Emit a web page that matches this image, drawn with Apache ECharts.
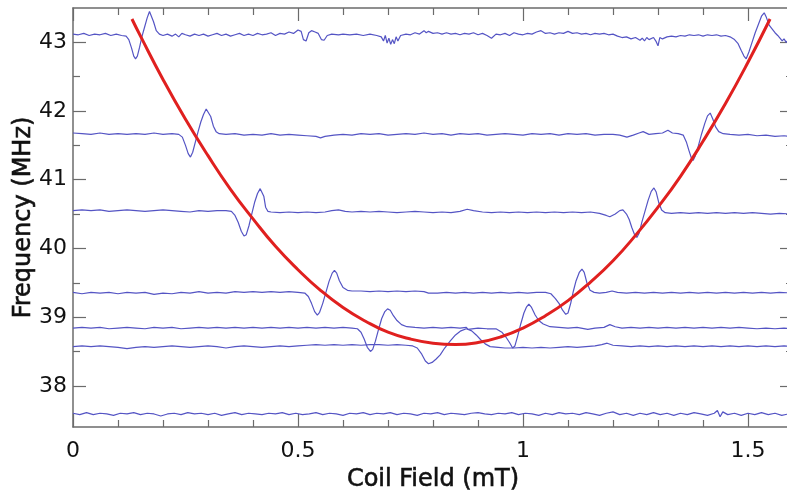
<!DOCTYPE html>
<html><head><meta charset="utf-8">
<script src="https://cdn.jsdelivr.net/npm/echarts@6/dist/echarts.min.js"></script>
<style>html,body{margin:0;padding:0;background:#fff}#c{width:787px;height:499px}</style>
</head><body><div id="c"></div>
<script>
var xMajorTicks = [0, 0.5, 1, 1.5];
var xMinorTicks = [0.1,0.2,0.3,0.4,0.6,0.7,0.8,0.9,1.1,1.2,1.3,1.4];
var yMajorTicks = [38, 39, 40, 41, 42, 43];
var yMinorTicks = [38.5, 39.5, 40.5, 41.5, 42.5];

var trace43 = [[0,43.12],[0.012,43.11],[0.024,43.13],[0.036,43.1],[0.048,43.12],[0.06,43.11],[0.072,43.13],[0.084,43.1],[0.096,43.12],[0.108,43.1],[0.118,43.09],[0.124,43.04],[0.13,42.92],[0.135,42.8],[0.139,42.76],[0.143,42.8],[0.148,42.93],[0.153,43.08],[0.159,43.22],[0.165,43.36],[0.17,43.45],[0.174,43.44],[0.179,43.3],[0.185,43.17],[0.192,43.12],[0.2,43.1],[0.21,43.12],[0.22,43.09],[0.228,43.12],[0.235,43.08],[0.242,43.13],[0.25,43.11],[0.26,43.09],[0.27,43.12],[0.28,43.1],[0.29,43.12],[0.3,43.09],[0.31,43.11],[0.32,43.13],[0.33,43.1],[0.34,43.12],[0.35,43.09],[0.36,43.11],[0.37,43.13],[0.38,43.1],[0.39,43.12],[0.4,43.1],[0.41,43.13],[0.42,43.11],[0.43,43.12],[0.44,43.14],[0.45,43.1],[0.46,43.13],[0.47,43.12],[0.48,43.15],[0.49,43.13],[0.5,43.18],[0.507,43.16],[0.512,43.04],[0.518,43.02],[0.524,43.14],[0.53,43.17],[0.538,43.15],[0.545,43.13],[0.552,43.04],[0.558,43.03],[0.565,43.1],[0.575,43.12],[0.59,43.11],[0.6,43.12],[0.615,43.11],[0.63,43.12],[0.645,43.1],[0.66,43.12],[0.675,43.1],[0.685,43.08],[0.69,43.02],[0.694,43.1],[0.698,42.99],[0.702,43.06],[0.706,42.97],[0.71,43.04],[0.714,42.98],[0.718,43.08],[0.722,43.02],[0.728,43.1],[0.74,43.12],[0.75,43.11],[0.76,43.14],[0.77,43.12],[0.78,43.17],[0.785,43.14],[0.79,43.16],[0.8,43.13],[0.81,43.14],[0.82,43.12],[0.83,43.14],[0.84,43.12],[0.85,43.13],[0.86,43.11],[0.87,43.13],[0.88,43.12],[0.89,43.14],[0.9,43.11],[0.91,43.13],[0.92,43.1],[0.93,43.06],[0.94,43.12],[0.95,43.11],[0.96,43.13],[0.97,43.1],[0.98,43.14],[0.99,43.12],[1.0,43.11],[1.01,43.13],[1.02,43.12],[1.03,43.15],[1.04,43.17],[1.05,43.13],[1.06,43.14],[1.07,43.12],[1.08,43.14],[1.09,43.13],[1.1,43.16],[1.11,43.13],[1.12,43.14],[1.13,43.12],[1.14,43.13],[1.15,43.11],[1.16,43.13],[1.17,43.12],[1.18,43.13],[1.19,43.11],[1.2,43.12],[1.21,43.09],[1.22,43.07],[1.23,43.08],[1.24,43.05],[1.25,43.07],[1.26,43.03],[1.265,43.06],[1.27,43.02],[1.275,43.07],[1.28,43.04],[1.29,43.07],[1.296,43.01],[1.3,42.95],[1.304,43.07],[1.31,43.05],[1.32,43.08],[1.33,43.09],[1.34,43.08],[1.35,43.1],[1.36,43.09],[1.37,43.11],[1.38,43.1],[1.39,43.11],[1.4,43.09],[1.41,43.11],[1.42,43.1],[1.43,43.11],[1.44,43.09],[1.45,43.1],[1.46,43.08],[1.47,43.04],[1.478,42.98],[1.485,42.88],[1.491,42.8],[1.496,42.76],[1.502,42.86],[1.509,43.0],[1.516,43.14],[1.523,43.26],[1.53,43.38],[1.536,43.43],[1.541,43.36],[1.547,43.25],[1.553,43.2],[1.56,43.14],[1.566,43.1],[1.571,43.06],[1.576,43.02],[1.58,43.05],[1.585,43.0],[1.59,43.04],[1.6,43.02]];

var trace41 = [[0,41.68],[0.02,41.67],[0.04,41.66],[0.06,41.68],[0.08,41.66],[0.1,41.67],[0.12,41.66],[0.14,41.67],[0.16,41.66],[0.18,41.68],[0.2,41.66],[0.22,41.67],[0.235,41.66],[0.243,41.62],[0.25,41.5],[0.256,41.38],[0.261,41.33],[0.266,41.4],[0.272,41.55],[0.278,41.7],[0.284,41.84],[0.29,41.95],[0.296,42.03],[0.3,42.02],[0.306,41.92],[0.312,41.78],[0.318,41.7],[0.325,41.67],[0.34,41.66],[0.36,41.67],[0.38,41.65],[0.4,41.66],[0.42,41.65],[0.44,41.67],[0.46,41.65],[0.48,41.66],[0.5,41.65],[0.52,41.64],[0.54,41.63],[0.55,41.61],[0.56,41.63],[0.58,41.65],[0.6,41.66],[0.62,41.65],[0.64,41.67],[0.66,41.66],[0.68,41.67],[0.7,41.65],[0.72,41.66],[0.74,41.67],[0.76,41.66],[0.78,41.68],[0.8,41.66],[0.82,41.67],[0.84,41.65],[0.86,41.67],[0.88,41.66],[0.9,41.67],[0.92,41.65],[0.94,41.66],[0.96,41.67],[0.98,41.66],[1.0,41.65],[1.02,41.67],[1.04,41.66],[1.06,41.67],[1.08,41.65],[1.1,41.67],[1.12,41.66],[1.14,41.67],[1.16,41.65],[1.18,41.66],[1.2,41.66],[1.215,41.65],[1.231,41.62],[1.245,41.65],[1.258,41.68],[1.267,41.7],[1.28,41.66],[1.295,41.67],[1.31,41.68],[1.322,41.72],[1.332,41.68],[1.345,41.67],[1.356,41.65],[1.363,41.55],[1.369,41.42],[1.374,41.32],[1.378,41.28],[1.383,41.35],[1.39,41.5],[1.397,41.67],[1.404,41.82],[1.41,41.93],[1.416,41.97],[1.422,41.88],[1.428,41.77],[1.435,41.7],[1.445,41.67],[1.46,41.66],[1.48,41.65],[1.5,41.66],[1.52,41.64],[1.54,41.65],[1.56,41.63],[1.58,41.64],[1.6,41.62]];

var trace40 = [[0,40.55],[0.02,40.56],[0.04,40.55],[0.06,40.56],[0.08,40.54],[0.1,40.55],[0.12,40.56],[0.14,40.55],[0.16,40.54],[0.18,40.55],[0.2,40.56],[0.22,40.55],[0.24,40.54],[0.26,40.53],[0.28,40.55],[0.3,40.54],[0.32,40.55],[0.34,40.55],[0.352,40.54],[0.36,40.48],[0.367,40.38],[0.374,40.25],[0.38,40.18],[0.385,40.2],[0.391,40.33],[0.398,40.52],[0.404,40.68],[0.41,40.8],[0.416,40.87],[0.42,40.86],[0.424,40.76],[0.428,40.6],[0.433,40.54],[0.44,40.53],[0.46,40.52],[0.48,40.53],[0.5,40.52],[0.52,40.53],[0.54,40.52],[0.56,40.53],[0.575,40.55],[0.59,40.56],[0.605,40.54],[0.62,40.53],[0.64,40.54],[0.66,40.53],[0.68,40.54],[0.7,40.53],[0.72,40.52],[0.74,40.53],[0.76,40.54],[0.78,40.53],[0.8,40.52],[0.82,40.53],[0.84,40.52],[0.86,40.54],[0.876,40.57],[0.89,40.55],[0.91,40.53],[0.93,40.52],[0.95,40.53],[0.97,40.52],[0.99,40.53],[1.01,40.52],[1.03,40.53],[1.05,40.52],[1.07,40.53],[1.09,40.52],[1.11,40.53],[1.13,40.52],[1.15,40.53],[1.17,40.51],[1.185,40.48],[1.193,40.46],[1.205,40.5],[1.215,40.55],[1.222,40.56],[1.23,40.5],[1.236,40.42],[1.242,40.3],[1.248,40.2],[1.253,40.16],[1.258,40.22],[1.264,40.38],[1.271,40.54],[1.278,40.7],[1.285,40.83],[1.291,40.88],[1.296,40.82],[1.302,40.66],[1.308,40.56],[1.316,40.52],[1.33,40.51],[1.35,40.52],[1.37,40.51],[1.39,40.52],[1.41,40.51],[1.43,40.52],[1.45,40.51],[1.47,40.52],[1.49,40.51],[1.51,40.52],[1.53,40.51],[1.55,40.5],[1.57,40.51],[1.6,40.5]];

var trace39 = [[0,39.36],[0.02,39.34],[0.04,39.36],[0.06,39.35],[0.08,39.36],[0.1,39.34],[0.12,39.36],[0.14,39.35],[0.16,39.36],[0.18,39.33],[0.2,39.35],[0.22,39.34],[0.24,39.36],[0.26,39.35],[0.28,39.37],[0.3,39.35],[0.32,39.36],[0.34,39.35],[0.36,39.37],[0.38,39.36],[0.4,39.37],[0.42,39.36],[0.44,39.37],[0.46,39.36],[0.48,39.37],[0.5,39.36],[0.515,39.35],[0.523,39.3],[0.53,39.2],[0.537,39.08],[0.543,39.03],[0.548,39.07],[0.555,39.2],[0.562,39.36],[0.569,39.52],[0.576,39.64],[0.581,39.68],[0.586,39.64],[0.592,39.53],[0.6,39.43],[0.61,39.39],[0.62,39.38],[0.64,39.38],[0.66,39.37],[0.68,39.38],[0.7,39.37],[0.72,39.38],[0.74,39.37],[0.76,39.38],[0.78,39.37],[0.79,39.35],[0.81,39.35],[0.83,39.36],[0.85,39.35],[0.87,39.36],[0.89,39.35],[0.91,39.36],[0.93,39.35],[0.95,39.36],[0.97,39.35],[0.99,39.36],[1.01,39.35],[1.03,39.36],[1.05,39.36],[1.062,39.34],[1.072,39.27],[1.08,39.2],[1.088,39.1],[1.095,39.04],[1.1,39.06],[1.106,39.2],[1.112,39.38],[1.118,39.53],[1.125,39.65],[1.131,39.7],[1.136,39.65],[1.142,39.5],[1.149,39.39],[1.158,39.36],[1.17,39.35],[1.185,39.36],[1.198,39.38],[1.21,39.36],[1.23,39.35],[1.25,39.36],[1.27,39.35],[1.29,39.36],[1.31,39.35],[1.33,39.36],[1.35,39.35],[1.37,39.36],[1.39,39.35],[1.41,39.36],[1.43,39.35],[1.45,39.36],[1.47,39.35],[1.49,39.36],[1.51,39.35],[1.53,39.36],[1.55,39.35],[1.57,39.36],[1.6,39.35]];

var trace38b = [[0,38.84],[0.02,38.85],[0.04,38.84],[0.06,38.85],[0.08,38.83],[0.1,38.84],[0.12,38.85],[0.14,38.84],[0.16,38.83],[0.18,38.85],[0.2,38.84],[0.22,38.85],[0.24,38.83],[0.26,38.84],[0.28,38.85],[0.3,38.84],[0.32,38.85],[0.34,38.84],[0.36,38.85],[0.38,38.84],[0.4,38.85],[0.42,38.84],[0.44,38.85],[0.46,38.84],[0.48,38.85],[0.5,38.84],[0.52,38.85],[0.54,38.84],[0.56,38.85],[0.58,38.84],[0.6,38.85],[0.62,38.84],[0.632,38.83],[0.64,38.78],[0.647,38.68],[0.654,38.56],[0.661,38.5],[0.666,38.53],[0.672,38.65],[0.679,38.82],[0.686,38.98],[0.693,39.08],[0.699,39.12],[0.705,39.1],[0.712,39.02],[0.72,38.95],[0.73,38.89],[0.742,38.86],[0.76,38.85],[0.78,38.84],[0.8,38.85],[0.82,38.84],[0.84,38.85],[0.86,38.84],[0.874,38.85],[0.878,38.82],[0.882,38.84],[0.9,38.84],[0.92,38.83],[0.94,38.83],[0.953,38.78],[0.962,38.71],[0.97,38.63],[0.977,38.55],[0.982,38.58],[0.988,38.72],[0.995,38.9],[1.002,39.06],[1.008,39.15],[1.013,39.19],[1.019,39.14],[1.027,39.03],[1.035,38.95],[1.045,38.9],[1.06,38.86],[1.08,38.85],[1.1,38.84],[1.12,38.85],[1.144,38.82],[1.16,38.84],[1.18,38.85],[1.193,38.89],[1.205,38.86],[1.22,38.84],[1.24,38.85],[1.26,38.84],[1.28,38.85],[1.3,38.84],[1.32,38.85],[1.34,38.84],[1.36,38.85],[1.38,38.84],[1.4,38.85],[1.42,38.84],[1.44,38.85],[1.46,38.84],[1.48,38.85],[1.5,38.84],[1.52,38.83],[1.54,38.84],[1.56,38.83],[1.58,38.84],[1.6,38.83]];

var trace38a = [[0,38.57],[0.02,38.58],[0.04,38.57],[0.06,38.58],[0.08,38.57],[0.1,38.56],[0.12,38.54],[0.14,38.56],[0.16,38.57],[0.18,38.56],[0.2,38.57],[0.22,38.58],[0.24,38.57],[0.26,38.56],[0.28,38.57],[0.3,38.58],[0.32,38.57],[0.34,38.55],[0.36,38.57],[0.38,38.58],[0.4,38.57],[0.42,38.56],[0.44,38.57],[0.46,38.58],[0.48,38.57],[0.5,38.58],[0.52,38.59],[0.54,38.6],[0.56,38.59],[0.58,38.6],[0.6,38.59],[0.62,38.6],[0.64,38.59],[0.66,38.6],[0.68,38.6],[0.7,38.59],[0.72,38.6],[0.74,38.59],[0.755,38.58],[0.765,38.55],[0.775,38.46],[0.783,38.36],[0.79,38.32],[0.798,38.34],[0.807,38.39],[0.816,38.45],[0.826,38.55],[0.838,38.65],[0.85,38.74],[0.862,38.8],[0.874,38.83],[0.886,38.8],[0.896,38.74],[0.906,38.67],[0.916,38.61],[0.927,38.57],[0.945,38.56],[0.96,38.55],[0.98,38.55],[1.0,38.56],[1.02,38.55],[1.04,38.56],[1.06,38.55],[1.08,38.56],[1.1,38.57],[1.12,38.56],[1.14,38.57],[1.16,38.58],[1.175,38.6],[1.187,38.62],[1.2,38.59],[1.22,38.58],[1.24,38.57],[1.26,38.58],[1.28,38.57],[1.3,38.58],[1.32,38.57],[1.34,38.58],[1.36,38.57],[1.38,38.58],[1.4,38.57],[1.42,38.58],[1.44,38.57],[1.46,38.58],[1.48,38.57],[1.5,38.58],[1.52,38.57],[1.54,38.58],[1.56,38.57],[1.58,38.58],[1.6,38.57]];

var trace37 = [[0,37.6],[0.015,37.58],[0.03,37.61],[0.045,37.58],[0.06,37.6],[0.075,37.59],[0.09,37.57],[0.105,37.6],[0.12,37.59],[0.135,37.61],[0.15,37.58],[0.165,37.6],[0.18,37.59],[0.195,37.56],[0.21,37.59],[0.225,37.6],[0.24,37.58],[0.255,37.61],[0.27,37.59],[0.285,37.6],[0.3,37.58],[0.315,37.6],[0.33,37.57],[0.345,37.59],[0.36,37.61],[0.375,37.58],[0.39,37.6],[0.405,37.59],[0.42,37.58],[0.435,37.6],[0.45,37.59],[0.465,37.61],[0.48,37.58],[0.495,37.6],[0.51,37.58],[0.525,37.59],[0.54,37.61],[0.555,37.58],[0.57,37.6],[0.585,37.59],[0.6,37.57],[0.615,37.6],[0.63,37.59],[0.645,37.61],[0.66,37.58],[0.675,37.6],[0.69,37.59],[0.705,37.61],[0.72,37.58],[0.735,37.6],[0.75,37.59],[0.765,37.57],[0.78,37.6],[0.795,37.59],[0.81,37.61],[0.825,37.58],[0.84,37.6],[0.855,37.59],[0.87,37.58],[0.885,37.6],[0.9,37.61],[0.915,37.59],[0.93,37.58],[0.945,37.6],[0.96,37.59],[0.975,37.61],[0.99,37.58],[1.005,37.6],[1.02,37.59],[1.035,37.57],[1.05,37.6],[1.065,37.58],[1.08,37.61],[1.095,37.59],[1.11,37.6],[1.125,37.58],[1.14,37.61],[1.155,37.59],[1.17,37.57],[1.185,37.6],[1.2,37.62],[1.215,37.58],[1.23,37.6],[1.245,37.57],[1.26,37.6],[1.275,37.58],[1.29,37.61],[1.305,37.58],[1.32,37.6],[1.335,37.57],[1.35,37.6],[1.365,37.58],[1.38,37.61],[1.395,37.59],[1.41,37.57],[1.425,37.6],[1.432,37.64],[1.438,37.55],[1.444,37.62],[1.455,37.58],[1.47,37.6],[1.485,37.57],[1.5,37.6],[1.515,37.58],[1.53,37.61],[1.545,37.58],[1.56,37.6],[1.575,37.57],[1.59,37.59],[1.6,37.58]];

var fitCurve = [[0.131,43.34],[0.15,43.09],[0.2,42.46],[0.25,41.88],[0.3,41.35],[0.35,40.86],[0.4,40.43],[0.45,40.03],[0.5,39.69],[0.55,39.39],[0.6,39.14],[0.65,38.94],[0.7,38.78],[0.75,38.68],[0.8,38.62],[0.85,38.6],[0.9,38.63],[0.95,38.71],[1.0,38.84],[1.05,39.02],[1.1,39.24],[1.15,39.51],[1.2,39.82],[1.25,40.19],[1.3,40.6],[1.35,41.05],[1.4,41.56],[1.45,42.11],[1.5,42.71],[1.549,43.34]];

var FONT = 'DejaVu Sans';
var AX = '#6b6b6b';
function xAx(pos, ticks, len, showLine, showLabel, name) {
  return {
    type: 'value', position: pos, min: 0, max: 1.6,
    axisLine: {show: showLine, onZero: false, lineStyle: {color: AX, width: 1.5}},
    axisTick: {show: true, inside: true, length: len, customValues: ticks, lineStyle: {color: AX, width: 1.2}},
    axisLabel: {show: showLabel, customValues: ticks, color: '#111', fontFamily: FONT, fontSize: 22, margin: 13},
    splitLine: {show: false},
    name: name || '', nameLocation: 'middle', nameGap: 41, nameMoveOverlap: false,
    nameTextStyle: {color: '#111', fontFamily: FONT, fontSize: 24, textBorderColor: '#111', textBorderWidth: 0.6}
  };
}
function yAx(pos, ticks, len, showLine, showLabel, name) {
  return {
    type: 'value', position: pos, min: 37.4, max: 43.5,
    axisLine: {show: showLine, onZero: false, lineStyle: {color: AX, width: 1.5}},
    axisTick: {show: true, inside: true, length: len, customValues: ticks, lineStyle: {color: AX, width: 1.2}},
    axisLabel: {show: showLabel, customValues: ticks, color: '#111', fontFamily: FONT, fontSize: 22, margin: 6},
    splitLine: {show: false},
    name: name || '', nameLocation: 'middle', nameGap: 37, nameMoveOverlap: false,
    nameTextStyle: {color: '#111', fontFamily: FONT, fontSize: 24, textBorderColor: '#111', textBorderWidth: 0.6}
  };
}
var traces = [trace43, trace41, trace40, trace39, trace38b, trace38a, trace37];
var series = traces.map(function (d) {
  return {type: 'line', data: d, xAxisIndex: 0, yAxisIndex: 0, showSymbol: false, symbol: 'none',
    lineStyle: {color: '#5454c4', width: 1.2}, z: 2, animation: false};
});
series.push({type: 'line', data: fitCurve, xAxisIndex: 0, yAxisIndex: 0, smooth: true, showSymbol: false, symbol: 'none',
  lineStyle: {color: '#e0201f', width: 3}, z: 3, animation: false});

var chart = echarts.init(document.getElementById('c'), null, {renderer: 'canvas'});
chart.setOption({
  animation: false,
  backgroundColor: '#fff',
  grid: {left: 73, top: 8, width: 720, height: 419, containLabel: false, outerBoundsMode: 'none'},
  xAxis: [
    xAx('bottom', xMajorTicks, 13, true, true, 'Coil Field (mT)'),
    xAx('top', xMajorTicks, 13, true, false),
    xAx('bottom', xMinorTicks, 7, false, false),
    xAx('top', xMinorTicks, 7, false, false)
  ],
  yAxis: [
    yAx('left', yMajorTicks, 13, true, true, 'Frequency (MHz)'),
    yAx('right', yMajorTicks, 13, true, false),
    yAx('left', yMinorTicks, 7, false, false),
    yAx('right', yMinorTicks, 7, false, false)
  ],
  series: series
});
</script></body></html>
